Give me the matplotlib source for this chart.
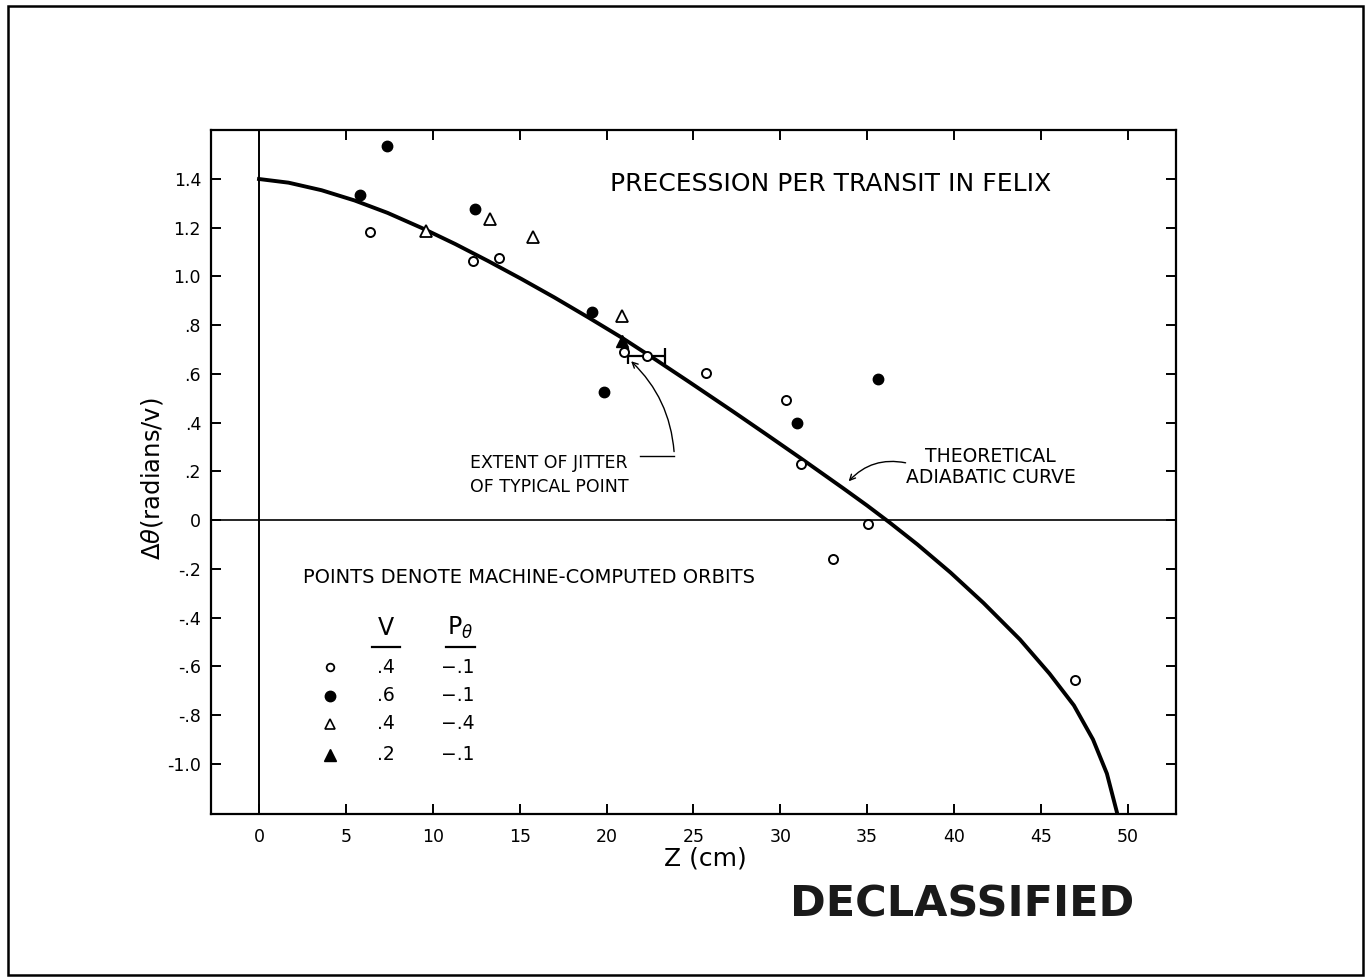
import matplotlib
matplotlib.use("Agg")
import matplotlib.pyplot as plt
from matplotlib.patches import Rectangle

# ---- data ----
# theoretical adiabatic curve
curve_z = [0, 1.7, 3.6, 5.5, 7.4, 9.4, 11.3, 13.2, 15.1, 17.0, 19.0, 20.9,
           22.8, 24.7, 27.3, 29.2, 31.1, 33.6, 35.0, 36.3, 37.9, 39.8, 41.7,
           43.8, 45.5, 46.9, 48.0, 48.8, 49.4]
curve_dtheta = [1.400, 1.385, 1.354, 1.312, 1.261, 1.198, 1.133, 1.063, 0.990,
                0.914, 0.830, 0.748, 0.660, 0.570, 0.445, 0.352, 0.258, 0.132,
                0.060, -0.010, -0.100, -0.215, -0.340, -0.490, -0.630,
                -0.760, -0.900, -1.040, -1.205]

# V=.4, P=-.1 (open circles)
open_circ_z = [6.39, 12.3, 13.8, 20.99, 22.31, 25.7, 30.33, 31.18, 35.07,
               33.02, 46.97]
open_circ_dt = [1.181, 1.065, 1.075, 0.691, 0.675, 0.604, 0.493, 0.230,
                -0.014, -0.161, -0.657]
# V=.6, P=-.1 (filled circles)
fill_circ_z = [7.35, 5.81, 12.43, 19.15, 19.87, 35.6, 30.95]
fill_circ_dt = [1.536, 1.335, 1.276, 0.855, 0.527, 0.579, 0.397]
# V=.4, P=-.4 (open triangles)
open_tri_z = [9.59, 13.3, 15.79, 20.87]
open_tri_dt = [1.187, 1.235, 1.164, 0.839]
# V=.2, P=-.1 (filled triangle)
fill_tri_z = [20.87]
fill_tri_dt = [0.735]

# typical jitter extent
jitter_z = 22.3
jitter_dt = 0.672
jitter_half = 1.05

# legend table
legend_v = [".4", ".6", ".4", ".2"]
legend_p = ["\u2212.1", "\u2212.1", "\u2212.4", "\u2212.1"]

x_ticks = [0, 5, 10, 15, 20, 25, 30, 35, 40, 45, 50]
y_ticks = [1.4, 1.2, 1.0, 0.8, 0.6, 0.4, 0.2, 0, -0.2, -0.4, -0.6, -0.8, -1.0]
y_ticklabels = ["1.4", "1.2", "1.0", ".8", ".6", ".4", ".2", "0",
                "-.2", "-.4", "-.6", "-.8", "-1.0"]

plt.rcParams['font.family'] = ['DejaVu Sans']

fig = plt.figure(figsize=(13.71, 9.77), dpi=100)
ax = fig.add_axes([0.1537, 0.1668, 0.7041, 0.7001])

ax.set_xlim(-2.78, 52.78)
ax.set_ylim(-1.206, 1.601)

for sp in ax.spines.values():
    sp.set_linewidth(1.6)

ax.axvline(0, color='black', lw=1.4)
ax.axhline(0, color='black', lw=1.2)

# curve
ax.plot(curve_z, curve_dtheta, color='black', lw=2.8, solid_joinstyle='round',
        zorder=3)

# data points
ax.plot(open_circ_z, open_circ_dt, 'o', ms=6.5, mfc='white', mec='black',
        mew=1.4, ls='none', zorder=4)
ax.plot(fill_circ_z, fill_circ_dt, 'o', ms=7.5, color='black', ls='none',
        zorder=4)
ax.plot(open_tri_z, open_tri_dt, '^', ms=8, mfc='white', mec='black',
        mew=1.3, ls='none', zorder=4)
ax.plot(fill_tri_z, fill_tri_dt, '^', ms=8.5, color='black', ls='none',
        zorder=4)

ax.errorbar([jitter_z], [jitter_dt], xerr=[jitter_half], fmt='none',
            ecolor='black', elinewidth=1.6, capsize=6, capthick=1.6, zorder=3)

# ticks
ax.set_xticks(x_ticks)
ax.set_xticklabels([str(t) for t in x_ticks])
ax.set_yticks(y_ticks)
ax.set_yticklabels(y_ticklabels)
ax.tick_params(axis='both', direction='in', length=7, width=1.4,
               labelsize=12.5, top=True, right=True)
ax.tick_params(axis='x', pad=10)
ax.tick_params(axis='y', pad=7)

ax.set_xlabel("Z (cm)", fontsize=18)
ax.xaxis.set_label_coords(0.5126, -0.047)
ax.set_ylabel(r"$\Delta\theta$" + "(radians/v)", fontsize=17.5)
ax.yaxis.set_label_coords(-0.047, 0.49)

# titles and notes
ax.text(20.2, 1.379, "PRECESSION PER TRANSIT IN FELIX", fontsize=18,
        ha='left', va='center')

ax.text(12.15, 0.185, "EXTENT OF JITTER\nOF TYPICAL POINT", fontsize=12.5,
        ha='left', va='center', linespacing=1.45)
ax.plot([21.9, 23.9], [0.265, 0.265], color='black', lw=1.0)
ax.annotate("", xy=(21.3, 0.66), xytext=(23.9, 0.27),
            arrowprops=dict(arrowstyle='->', lw=1.0, color='black',
                            connectionstyle='arc3,rad=0.2'))

ax.text(42.1, 0.219, "THEORETICAL\nADIABATIC CURVE", fontsize=13.5,
        ha='center', va='center', multialignment='center', linespacing=1.1)
ax.annotate("", xy=(33.83, 0.151), xytext=(37.37, 0.233),
            arrowprops=dict(arrowstyle='->', lw=1.0, color='black',
                            connectionstyle='arc3,rad=0.3'))

ax.text(2.55, -0.235, "POINTS DENOTE MACHINE-COMPUTED ORBITS", fontsize=14,
        ha='left', va='center')

# legend table (symbols, V, P_theta)
row_y = [-0.604, -0.72, -0.835, -0.963]
sym_x, v_x, p_x = 4.09, 7.3, 11.45
ax.text(v_x, -0.444, "V", fontsize=17, ha='center', va='center')
ax.text(11.6, -0.444, r"P$_{\theta}$", fontsize=17, ha='center', va='center')
ax.plot([6.5, 8.1], [-0.522, -0.522], color='black', lw=1.6)
ax.plot([10.75, 12.45], [-0.522, -0.522], color='black', lw=1.6)
ax.plot([sym_x], [row_y[0]], 'o', ms=5.5, mfc='white', mec='black', mew=1.3)
ax.plot([sym_x], [row_y[1]], 'o', ms=7.5, color='black')
ax.plot([sym_x], [row_y[2]], '^', ms=7, mfc='white', mec='black', mew=1.2)
ax.plot([sym_x], [row_y[3]], '^', ms=8.5, color='black')
for yy, v, p in zip(row_y, legend_v, legend_p):
    ax.text(v_x, yy, v, fontsize=13.5, ha='center', va='center')
    ax.text(p_x, yy, p, fontsize=13.5, ha='center', va='center')

# stamp and page border
fig.text(0.7017, 0.0747, "DECLASSIFIED", fontsize=31, fontweight='bold',
         ha='center', va='center', color='#1a1a1a')
fig.patches.append(Rectangle((0.0058, 0.002), 0.9884, 0.9919,
                             transform=fig.transFigure, fill=False,
                             edgecolor='black', lw=1.8))

fig.savefig("out.png", dpi=100)
